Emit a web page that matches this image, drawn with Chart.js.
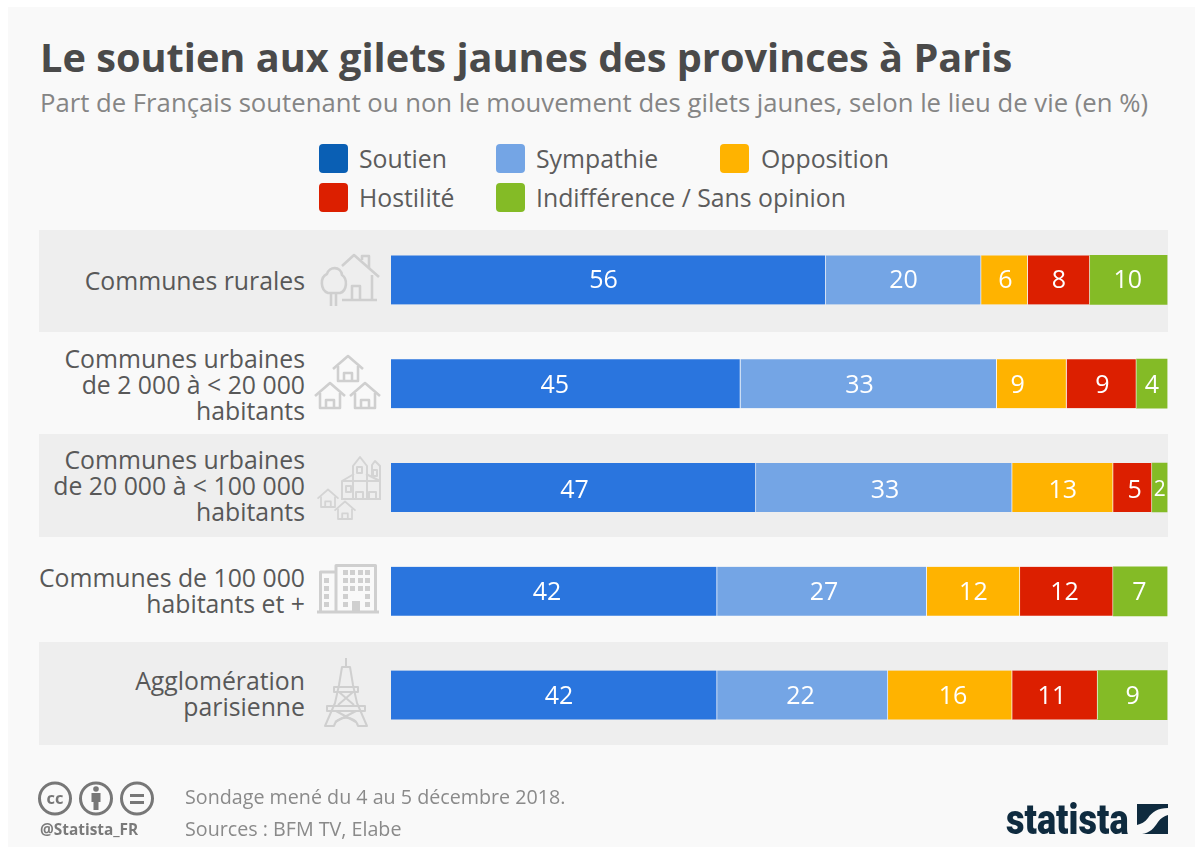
<!DOCTYPE html>
<html lang="fr"><head><meta charset="utf-8">
<script src="https://cdn.jsdelivr.net/npm/chart.js@4"></script>
<style>
html,body{margin:0;padding:0;background:#fff;width:1195px;height:847px;overflow:hidden}
body{position:relative;font-family:"Open Sans",sans-serif}
#panel{position:absolute;left:8px;top:7px;right:0;bottom:0;background:#f9f9f9}
.band{position:absolute;left:39px;width:1129px;background:#eeeeee}
.t{position:absolute;white-space:nowrap}
#title{left:40px;top:31px;font-size:39.7px;font-weight:700;color:#4a4a4a;line-height:52px}
#sub{left:40px;top:86px;font-size:25.7px;color:#858585;line-height:34px}
.leg{font-size:24.8px;color:#5c5c5c;line-height:32px}
.sw{position:absolute;width:29px;height:29px;border-radius:4px}
.cat{right:890px;text-align:right;font-size:24.8px;color:#585858;line-height:26px;white-space:pre}
.foot{font-size:19.7px;color:#8a8a8a;line-height:26px}
#wrap{position:absolute;left:0;top:0;width:1195px;height:847px}
svg{position:absolute;left:0;top:0}
</style></head><body>
<div id="panel"></div>
<div class="band" style="top:230px;height:102px"></div>
<div class="band" style="top:434px;height:103px"></div>
<div class="band" style="top:642px;height:103px"></div>
<div class="t" id="title">Le soutien aux gilets jaunes des provinces à Paris</div>
<div class="t" id="sub">Part de Français soutenant ou non le mouvement des gilets jaunes, selon le lieu de vie (en %)</div>
<div id="legend"></div>
<div id="cats"></div>
<div id="wrap"><canvas id="c" width="1195" height="847"></canvas></div>
<svg width="1195" height="847" viewBox="0 0 1195 847" id="icons" fill="none" stroke="#cfcfcf" stroke-width="2.6" stroke-linejoin="round"></svg>
<div class="t foot" style="left:185px;top:784px">Sondage mené du 4 au 5 décembre 2018.</div>
<div class="t foot" style="left:185px;top:816px">Sources : BFM TV, Elabe</div>
<div class="t" style="left:40px;top:821px;font-size:15.4px;font-weight:700;color:#7a7a7a;line-height:18px">@Statista_FR</div>
<div class="t" id="logo" style="left:1006px;top:792px;font-family:'Roboto';font-weight:900;font-size:43px;line-height:54px;color:#0f2b3f;transform:scaleX(.84);transform-origin:0 0;letter-spacing:0">statista</div>
<script>
const categories=["Communes rurales","Communes urbaines\nde 2 000 à < 20 000\nhabitants","Communes urbaines\nde 20 000 à < 100 000\nhabitants","Communes de 100 000\nhabitants et +","Agglomération\nparisienne"];
const seriesNames=["Soutien","Sympathie","Opposition","Hostilité","Indifférence / Sans opinion"];
const soutien=[56,45,47,42,42];
const sympathie=[20,33,33,27,22];
const opposition=[6,9,13,12,16];
const hostilite=[8,9,5,12,11];
const indifference=[10,4,2,7,9];
const barColors=["#2a75de","#74a5e5","#ffb300","#dc1f00","#84bb26"];
const legendColors=["#0a5fb4","#74a5e5","#ffb300","#dc1f00","#84bb26"];
const legendCells=[[319,359,144],[496,536,144],[720,761,144],[319,359,183],[496,536,183]];
const catTops=[267,345,446,564,667];
const labelNudge=[[-5,0,1,0,-1],[-11,-9,-14,1,0],[1,1,0,2,0],[-7,2,0,-2,-1],[5,-2,3,-3,0]];
const labelDrop=[1,2,3,2,2];

const legendEl=document.getElementById('legend');
seriesNames.forEach((n,i)=>{const [sx,tx,y]=legendCells[i];
 legendEl.insertAdjacentHTML('beforeend',`<div class="sw" style="left:${sx}px;top:${y}px;background:${legendColors[i]}"></div><div class="t leg" style="left:${tx}px;top:${y-2}px">${n}</div>`);});
const catEl=document.getElementById('cats');
categories.forEach((c,i)=>{const d=document.createElement('div');d.className='t cat';d.style.top=catTops[i]+'px';d.textContent=c;catEl.appendChild(d);});

const valueLabels={id:'valueLabels',afterDatasetsDraw(ch){const g=ch.ctx;g.save();g.fillStyle='#fff';g.textAlign='center';g.textBaseline='middle';
 ch.data.datasets.forEach((ds,di)=>{ch.getDatasetMeta(di).data.forEach((b,i)=>{const v=ds.data[i];
  g.font=(v<=2?'21px':'25px')+' "Open Sans"';
  const cx=(b.x+b.base)/2+labelNudge[i][di];
  g.fillText(String(v),cx,b.y+labelDrop[i]);});});g.restore();}};

new Chart(document.getElementById('c'),{type:'bar',
 data:{labels:categories.map(c=>c.replace(/\n/g,' ')),datasets:[soutien,sympathie,opposition,hostilite,indifference].map((d,i)=>({label:seriesNames[i],data:d,backgroundColor:barColors[i],borderColor:'rgba(255,255,255,.55)',borderWidth:{right:i<4?1:0},borderSkipped:false,barThickness:49}))},
 options:{indexAxis:'y',responsive:false,animation:false,maintainAspectRatio:false,
  layout:{padding:{left:391,right:27.5,top:228,bottom:100}},
  plugins:{legend:{display:false},tooltip:{enabled:false},title:{display:false}},
  scales:{x:{stacked:true,min:0,max:100,display:false},y:{stacked:true,display:false}}},
 plugins:[valueLabels]});

// decorative icons
function house(cx,base,s){const w=15*s,h=12*s;return `<path d="M${cx-w} ${base-h} L${cx} ${base-h-13*s} L${cx+w} ${base-h}"/><path d="M${cx-10*s} ${base-h-3*s} V${base} H${cx+10*s} V${base-h-3*s}"/><path d="M${cx-4*s} ${base} V${base-8*s} H${cx+4*s} V${base}"/>`;}
let s='';
s+=`<path d="M342 266 L354 255 L379 277"/><path d="M362 260 V256 H369 V268"/><path d="M372 275 V300"/><path d="M342 300 H377"/><path d="M352 300 V286 H360 V300"/>`;
s+=`<path d="M328 293 C320 290 320 277 327 274 C329 266 341 266 342 275 C348 279 347 291 340 293 Z"/><path d="M331 293 V306 M336 293 V306"/>`;
s+=house(348,381,1)+house(330,408,1)+house(365,408,1);
s+=`<g stroke-width="2" stroke="#d4d4d4"><path d="M341 499 H381"/><path d="M342 499 V481 L354 474 M380 499 V481 L366 474"/><path d="M353 499 V466 L360 457 L367 466 V499"/><path d="M372 476 V465 L375 461 L380 466 V499"/><path d="M342 481 H380"/><path d="M356 499 V492 H363 V499 M369 499 V492 H376 V499"/><rect x="357" y="467" width="5" height="6"/><rect x="373" y="470" width="4" height="6"/><rect x="346" y="486" width="5" height="6"/></g>`;
s+=`<g stroke-width="1.8" stroke="#d4d4d4">${house(328,507,.7)}${house(345,519,.7)}</g>`;
s+=`<path d="M317 612 H379" stroke-width="3"/><path d="M336 612 V565.5 H375.5 V612" stroke-width="3"/><path d="M336 572 H320.5 V612" stroke-width="3"/>`;
let win='';
[[345,570],[352,570],[360,570],[367,570],[345,578],[352,578],[360,578],[367,578],[345,586],[352,586],[360,586],[367,586],[345,594],[367,594],[345,602],[367,602],[326,578],[326,586],[326,594],[326,602]].forEach(p=>{win+=`<rect x="${p[0]-2}" y="${p[1]}" width="5" height="5"/>`;});
s+=`<g fill="#cfcfcf" stroke="none">${win}<rect x="352" y="601" width="8" height="11"/></g>`;
s+=`<g stroke-width="2"><path d="M346 658 V668"/><path d="M342 668 H350 L353 686 L357 704 L367 727 H358 C356 716 336 716 334 727 H325 L335 704 L339 686 Z" transform="translate(0,-1)"/><path d="M334 687 H358 V692 H334 Z"/><path d="M327 706 H365 V711 H327 Z"/><path d="M339 692 L354 705 M353 692 L338 705 M336 711 L356 722 M356 711 L335 722"/></g>`;
function ring(x){return `<circle cx="${x}" cy="798.5" r="15.5" stroke="#777" stroke-width="3"/>`;}
s+=ring(55)+ring(96)+ring(137);
s+=`<text x="55" y="804" font-family="Open Sans" font-weight="700" font-size="16.5" fill="#777" stroke="none" text-anchor="middle">cc</text>`;
s+=`<g fill="#777" stroke="none"><circle cx="96" cy="789" r="2.8"/><rect x="91.5" y="793" width="9" height="9"/><rect x="93.5" y="802" width="5" height="8"/><rect x="130" y="794" width="14" height="3"/><rect x="130" y="801" width="14" height="3"/></g>`;
s+=`<g fill="#0f2b3f" stroke="none"><path d="M1137 804 H1168 V808 C1158 808 1152 812 1148 818 C1145 822 1141 824 1137 825 Z"/><path d="M1168 815 V834 H1142 C1150 833 1154 828 1158 822 C1161 818 1164 816 1168 815 Z"/></g>`;
document.getElementById('icons').innerHTML=s;
</script>
</body></html>
